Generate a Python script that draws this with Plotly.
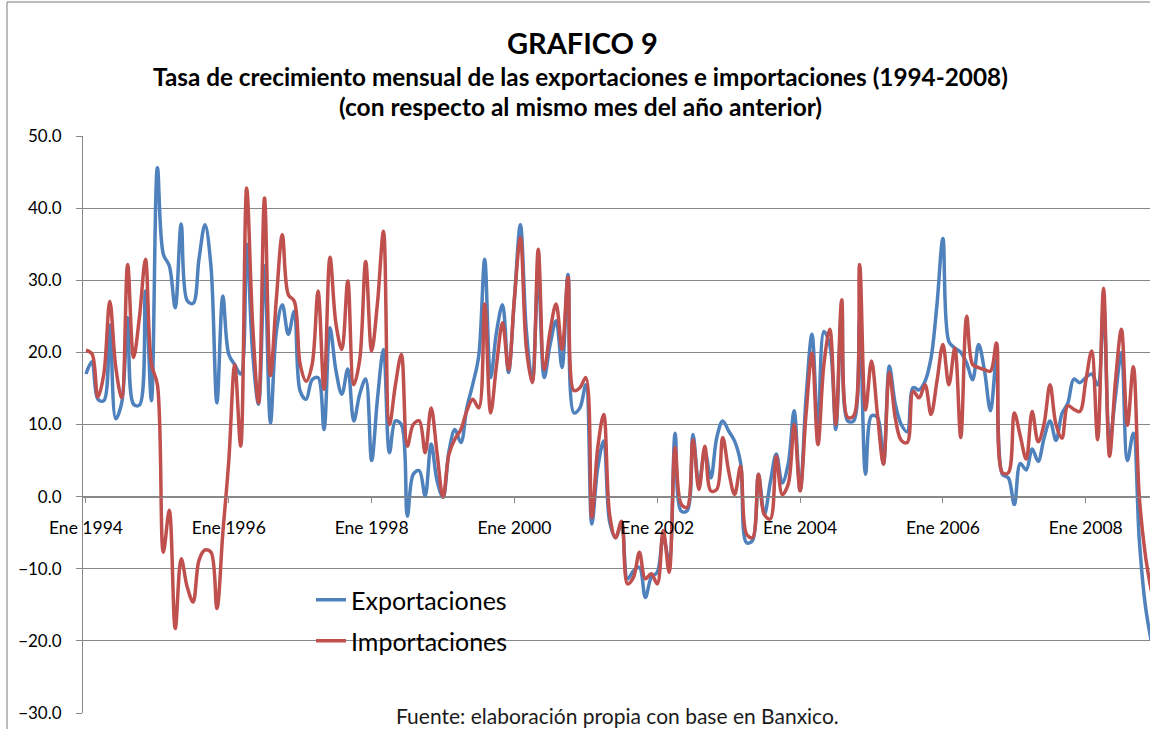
import plotly.graph_objects as go

# Meses ene-1994 a dic-2008 (eje de categorías)
meses = [f"{a}-{m:02d}" for a in range(1994, 2009) for m in range(1, 13)]

exportaciones = [
    17.0, 18.7, 13.5, 13.3, 23.8, 10.8, 13.0, 24.8, 12.8, 12.7, 28.5, 13.3,
    45.6, 33.6, 32.0, 26.2, 37.8, 27.2, 26.8, 33.0, 37.7, 32.0, 13.0, 27.8,
    19.7, 18.3, 17.0, 35.0, 20.0, 12.8, 32.0, 10.2, 22.9, 26.6, 22.5, 25.7,
    14.6, 13.5, 16.2, 16.5, 9.3, 23.4, 17.5, 14.2, 17.7, 10.5, 14.2, 16.3,
    5.0, 13.7, 20.4, 6.1, 10.5, 10.0, -2.7, 3.1, 3.6, 0.1, 7.3, 2.2,
    -0.1, 6.3, 9.3, 7.5, 12.3, 15.6, 19.5, 32.9, 16.5, 22.9, 26.6, 17.2,
    27.5, 37.7, 23.0, 16.0, 31.0, 16.5, 21.1, 24.4, 17.9, 30.8, 11.6, 12.3,
    15.5, -3.8, 4.0, 7.7, -3.5, -5.7, -3.8, -11.4, -10.3, -9.8, -14.0, -11.2,
    -10.5, -5.5, -9.0, 8.8, -2.0, -2.0, 8.6, 1.7, 6.3, 2.6, 8.2, 10.5,
    9.1, 7.7, 4.7, -6.4, -6.1, 3.1, -2.5, 2.0, 5.9, 1.9, 4.5, 11.9,
    0.8, 13.7, 22.5, 9.1, 22.9, 21.0, 9.3, 26.0, 10.5, 10.5, 24.4, 3.1,
    11.2, 11.0, 4.5, 18.1, 12.8, 10.0, 9.0, 15.1, 14.8, 16.0, 19.2, 26.6,
    35.8, 21.5, 20.6, 20.0, 18.5, 16.2, 21.1, 17.4, 11.9, 19.0, 3.1, 2.6,
    -1.1, 4.6, 3.7, 6.6, 4.9, 8.1, 10.5, 7.8, 11.5, 13.0, 16.3, 15.8,
    16.5, 17.0, 15.5, 26.5, 7.5, 14.0, 20.0, 5.0, 8.8, -6.0, -15.0, -20.0,
]

importaciones = [
    20.3, 19.8, 13.8, 17.0, 27.1, 18.0, 13.7, 32.2, 19.3, 25.0, 32.9, 18.4,
    15.5, -7.7, -1.9, -18.3, -8.6, -12.5, -14.6, -8.8, -7.4, -7.7, -15.5, -5.0,
    5.0, 18.3, 7.0, 42.8, 24.0, 13.0, 41.4, 16.8, 27.5, 36.3, 28.0, 27.1,
    18.3, 16.0, 18.3, 28.5, 14.9, 33.2, 24.0, 20.4, 29.9, 15.5, 19.0, 32.6,
    20.2, 27.0, 36.8, 10.0, 15.5, 19.7, 7.0, 10.0, 10.5, 6.1, 12.3, 6.0,
    -0.1, 5.9, 8.0, 9.3, 11.9, 13.5, 12.3, 26.7, 11.6, 18.3, 24.1, 17.6,
    27.5, 35.9, 20.6, 15.8, 34.3, 17.6, 23.0, 26.7, 20.4, 30.4, 14.7, 15.1,
    16.5, -2.9, 6.8, 11.4, -2.5, -5.7, -3.4, -12.1, -11.2, -7.7, -11.4, -10.7,
    -12.1, -4.7, -10.5, 6.8, -1.0, -1.5, 7.9, 1.0, 7.0, 0.8, 1.0, 8.2,
    3.5, 0.3, 4.2, -5.2, -5.7, 3.1, -2.5, -3.1, 5.6, 0.3, 1.7, 10.0,
    0.8, 11.4, 19.9, 7.2, 18.3, 23.2, 10.0, 27.3, 11.0, 11.2, 32.2, 12.0,
    18.8, 11.4, 4.5, 17.2, 10.9, 7.8, 7.5, 14.6, 13.7, 15.5, 11.4, 16.0,
    21.1, 15.5, 20.6, 8.2, 25.0, 18.3, 17.9, 17.6, 17.4, 21.3, 3.3, 3.3,
    11.6, 8.4, 5.2, 11.8, 7.6, 10.1, 15.5, 10.0, 8.1, 12.6, 12.1, 11.8,
    16.0, 20.2, 7.9, 28.9, 5.6, 16.0, 23.2, 9.9, 18.0, 0.0, -8.0, -13.0,
]

etiquetas_x = ["Ene 1994", "Ene 1996", "Ene 1998", "Ene 2000",
               "Ene 2002", "Ene 2004", "Ene 2006", "Ene 2008"]
pos_x = ["1994-01", "1996-01", "1998-01", "2000-01",
         "2002-01", "2004-01", "2006-01", "2008-01"]
ticks_y = [50, 40, 30, 20, 10, 0, -10, -20, -30]

FONT = "Lato, sans-serif"
GRIS = "#888888"

fig = go.Figure()

fig.add_trace(go.Scatter(
    x=meses, y=exportaciones, name="Exportaciones", mode="lines",
    line=dict(color="#4F81BD", width=3.5, shape="spline", smoothing=1.0),
    legend="legend", showlegend=True,
))
fig.add_trace(go.Scatter(
    x=meses, y=importaciones, name="Importaciones", mode="lines",
    line=dict(color="#C0504D", width=3.5, shape="spline", smoothing=1.0),
    legend="legend2", showlegend=True,
))

# pixel -> paper helpers (plot area: x 83..1150, y 136..713)
def px(x):
    return (x - 83) / 1067

def py(y):
    return (713 - y) / 577

fig.update_layout(
    width=1150, height=729,
    margin=dict(l=83, r=0, t=136, b=16),
    paper_bgcolor="white", plot_bgcolor="white",
    font=dict(family=FONT, color="#000000"),
    showlegend=True,
    xaxis=dict(
        type="category", range=[-0.5, 178.8],
        tickmode="array", tickvals=pos_x, ticktext=etiquetas_x,
        tickfont=dict(size=17.5, color="#000000"),
        ticks="outside", ticklen=5, tickcolor=GRIS,
        ticklabelstandoff=10,
        showgrid=False, showline=True, linecolor=GRIS, linewidth=1,
        anchor="free", position=0.375,
    ),
    yaxis=dict(
        range=[-30, 50], tickmode="array", tickvals=ticks_y,
        tickformat=".1f", tickfont=dict(size=17, color="#000000"),
        ticks="outside", ticklen=6, tickcolor=GRIS,
        ticklabelstandoff=11,
        showgrid=True, gridcolor=GRIS, gridwidth=1,
        showline=True, linecolor=GRIS, linewidth=1,
        zeroline=False,
    ),
    legend=dict(
        x=px(311), y=py(600), xanchor="left", yanchor="middle",
        font=dict(size=25, color="#000000"), bgcolor="rgba(0,0,0,0)",
        visible=True,
    ),
    legend2=dict(
        x=px(311), y=py(641), xanchor="left", yanchor="middle",
        font=dict(size=25, color="#000000"), bgcolor="rgba(0,0,0,0)",
        visible=True,
    ),
    annotations=[
        dict(text="<b>GRAFICO 9</b>", x=px(582), y=py(42), xref="paper", yref="paper",
             showarrow=False, font=dict(size=29), xanchor="center", yanchor="middle"),
        dict(text="<b>Tasa de crecimiento mensual de las exportaciones e importaciones (1994-2008)</b>",
             x=px(580), y=py(77), xref="paper", yref="paper",
             showarrow=False, font=dict(size=24.3), xanchor="center", yanchor="middle"),
        dict(text="<b>(con respecto al mismo mes del año anterior)</b>",
             x=px(580), y=py(107), xref="paper", yref="paper",
             showarrow=False, font=dict(size=24.5), xanchor="center", yanchor="middle"),
        dict(text="Fuente: elaboración propia con base en Banxico.",
             x=px(617), y=py(715), xref="paper", yref="paper",
             showarrow=False, font=dict(size=21, color="#1a1a1a"),
             xanchor="center", yanchor="middle"),
    ],
    shapes=[
        dict(type="line", xref="paper", yref="paper", x0=px(7), x1=px(7),
             y0=py(729), y1=py(2), line=dict(color="#a6a6a6", width=1.5)),
        dict(type="line", xref="paper", yref="paper", x0=px(7), x1=px(1150),
             y0=py(2), y1=py(2), line=dict(color="#a6a6a6", width=1.5)),
    ],
)

# quitar el margen por defecto del <body> para que la figura ocupe toda la ventana
fig.write_html("out.html", config={"displayModeBar": False},
               post_script="document.body.style.margin='0';")
